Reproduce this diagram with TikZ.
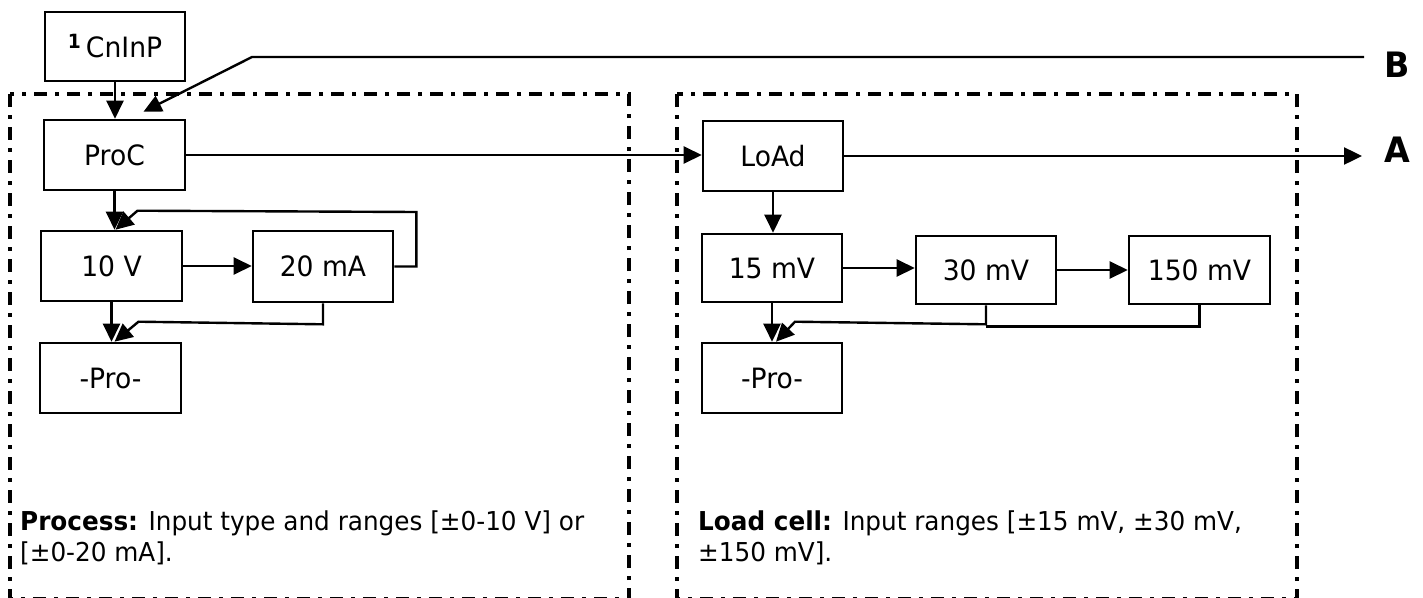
\documentclass[tikz,border=0pt]{standalone}
\usepackage{fontspec}
\setmainfont{DejaVu Sans}[FakeStretch=0.95]
\usetikzlibrary{arrows.meta,calc}
\begin{document}
\begin{tikzpicture}[x=1pt,y=-1pt,
  blk/.style={draw,line width=2.6pt,minimum width=141pt,minimum height=70pt,inner sep=0pt,font=\fontsize{28}{33}\selectfont},
  arr/.style={line width=2.4pt,-{Triangle[length=18pt,width=17pt]}},
  wire/.style={line width=2.4pt},
  frame/.style={line width=4.5pt,dash pattern=on 13pt off 8pt on 4pt off 8pt},
  note/.style={anchor=north west,inner sep=0pt,align=left,font=\fontsize{26}{31}\selectfont},
  lab/.style={font=\bfseries\fontsize{35}{40}\selectfont,inner sep=0pt}]
\useasboundingbox (0,0) rectangle (1423,597);
\begin{scope}
\clip (0,0) rectangle (1423,597);
\draw[frame] (10,94) rectangle (629,599);
\draw[frame] (677,94) rectangle (1297,599);
\end{scope}
% nodes
\node[blk,minimum width=140pt,minimum height=69pt] (cn) at (115,46.5) {\textsuperscript{\textbf{1}}\,CnInP};
\node[blk] (proc) at (114.5,155) {ProC};
\node[blk,minimum width=140pt] (load) at (773,156) {LoAd};
\node[blk] (v10) at (111.5,266) {10 V};
\node[blk,minimum width=140pt,minimum height=71pt] (ma20) at (323,266.5) {20 mA};
\node[blk] (proL) at (110.5,378) {-Pro-};
\node[blk,minimum width=140pt,minimum height=68pt] (mv15) at (772,268) {15 mV};
\node[blk,minimum width=140pt,minimum height=68pt] (mv30) at (986,270) {30 mV};
\node[blk,minimum height=68pt] (mv150) at (1199.5,270) {150 mV};
\node[blk,minimum width=140pt] (proR) at (772,378) {-Pro-};
\node[lab] (B) at (1397,65) {B};
\node[lab] (A) at (1397,150) {A};
\coordinate (Bstart) at (1364,57);
\coordinate (Aend) at (1362,156);
% notes
\node[note] (np) at (20,511) {\textbf{Process:} Input type and ranges [±0-10 V] or\\{}[±0-20 mA].};
\node[note] (nl) at (698,511) {\textbf{Load cell:} Input ranges [±15 mV, ±30 mV,\\±150 mV].};
% connectors
\draw[arr] (cn.south) -- (cn.south |- proc.north);
\draw[arr] (Bstart) -- (252,57) -- ($(proc.north)+(29,-7)$);
\draw[arr] (proc.east) -- (proc.east -| load.west);
\draw[arr] (load.east) -- (Aend);
\draw[arr] (proc.south) -- (proc.south |- v10.north);
\draw[arr] (v10.east) -- (v10.east -| ma20.west);
\draw[arr] (ma20.east) -- ++(22,0) -- ++(0,-54.5) -- ($(v10.north)+(26,-19)$) -- ($(v10.north)+(4,0)$);
\draw[arr] (v10.south) -- (v10.south |- proL.north);
\draw[arr] (ma20.south) -- ++(0,21) -- ($(proL.north)+(28,-20)$) -- ($(proL.north)+(4,0)$);
\draw[arr] (load.south) -- (load.south |- mv15.north);
\draw[arr] (mv15.east) -- (mv15.east -| mv30.west);
\draw[arr] (mv30.east) -- (mv30.east -| mv150.west);
\draw[arr] (mv15.south) -- (mv15.south |- proR.north);
\draw[arr] (mv30.south) -- ++(0,19) -- ($(proR.north)+(23,-20)$) -- ($(proR.north)+(4,0)$);
\draw[wire] (mv150.south) -- ++(0,21) -- ($(mv30.south)+(0,21)$);
\end{tikzpicture}
\end{document}
